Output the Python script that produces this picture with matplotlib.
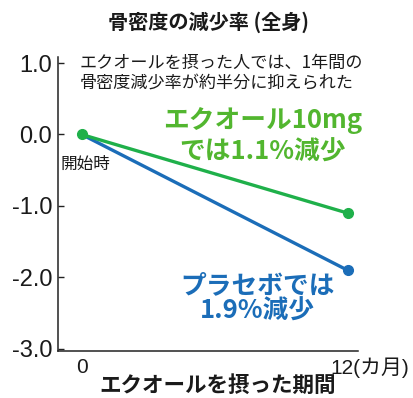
import matplotlib.pyplot as plt
import matplotlib.transforms as mtransforms

plt.rcParams['font.family'] = ['Liberation Sans', 'Noto Sans CJK JP']

mois = [0, 12]
equol = [0.0, -1.1]      # エクオール10mg
placebo = [0.0, -1.9]    # プラセボ
graduations_y = [1.0, 0.0, -1.0, -2.0, -3.0]
etiquettes_y = ["1.0", "0.0", "-1.0", "-2.0", "-3.0"]
etiquettes_x = ["0", "12(カ月)"]

vert_ligne = '#1fb04a'
vert_texte = '#52b62f'
bleu = '#1b6db8'
cjk = ['Noto Sans CJK JP', 'DejaVu Sans']

fig = plt.figure(figsize=(4.13, 3.98), dpi=100)
ax = fig.add_axes([0.140, 0.118, 0.726, 0.738])

ax.plot(mois, placebo, color=bleu, lw=2.4, marker='o', markersize=7,
        markevery=[1], solid_capstyle='round', zorder=3)
ax.plot(mois, equol, color=vert_ligne, lw=2.4, marker='o', markersize=7,
        solid_capstyle='round', zorder=4)

ax.set_xlim(-1.08, 12.45)
ax.set_ylim(-3.03, 1.08)

ax.set_yticks(graduations_y)
ax.set_yticklabels(etiquettes_y, fontsize=17, color='#1a1a1a')
ax.set_xticks(mois)
ax.set_xticklabels(etiquettes_x, fontsize=15, color='#1a1a1a')
ax.tick_params(axis='y', direction='in', length=4, width=1, pad=4, color='#222222')
ax.tick_params(axis='x', length=0, pad=5)

# decaler "12(カ月)" pour que le 12 tombe sur la graduation
lab12 = ax.get_xticklabels()[1]
lab12.set_ha('left')
lab12.set_transform(lab12.get_transform() +
                    mtransforms.ScaledTranslation(-17 / 100, 0, fig.dpi_scale_trans))

for cote in ['top', 'right']:
    ax.spines[cote].set_visible(False)
for cote in ['left', 'bottom']:
    ax.spines[cote].set_linewidth(1.1)
    ax.spines[cote].set_color('#222222')

fig.text(0.505, 0.945, "骨密度の減少率 (全身)", family=cjk, fontsize=14.5,
         fontweight='bold', ha='center', va='center', color='#1a1a1a')
fig.text(0.527, 0.032, "エクオールを摂った期間", family=cjk, fontsize=15.5,
         fontweight='bold', ha='center', va='center', color='#1a1a1a')

ax.text(-0.1, 0.86, "エクオールを摂った人では、1年間の\n骨密度減少率が約半分に抑えられた",
        family=cjk, fontsize=12.3, ha='left', va='center', linespacing=1.15,
        color='#1a1a1a')
ax.text(-0.95, -0.42, "開始時", family=cjk, fontsize=12, ha='left', va='center',
        color='#1a1a1a')

ax.text(8.15, 0.19, "エクオール10mg", family=cjk, fontsize=18.5, fontweight='bold',
        ha='center', va='center', color=vert_texte)
ax.text(8.15, -0.25, "では1.1%減少", family=cjk, fontsize=18.5, fontweight='bold',
        ha='center', va='center', color=vert_texte)
ax.text(7.93, -2.11, "プラセボでは", family=cjk, fontsize=18.5, fontweight='bold',
        ha='center', va='center', color=bleu)
ax.text(7.93, -2.47, "1.9%減少", family=cjk, fontsize=18.5, fontweight='bold',
        ha='center', va='center', color=bleu)

fig.savefig('out.png', dpi=100)
